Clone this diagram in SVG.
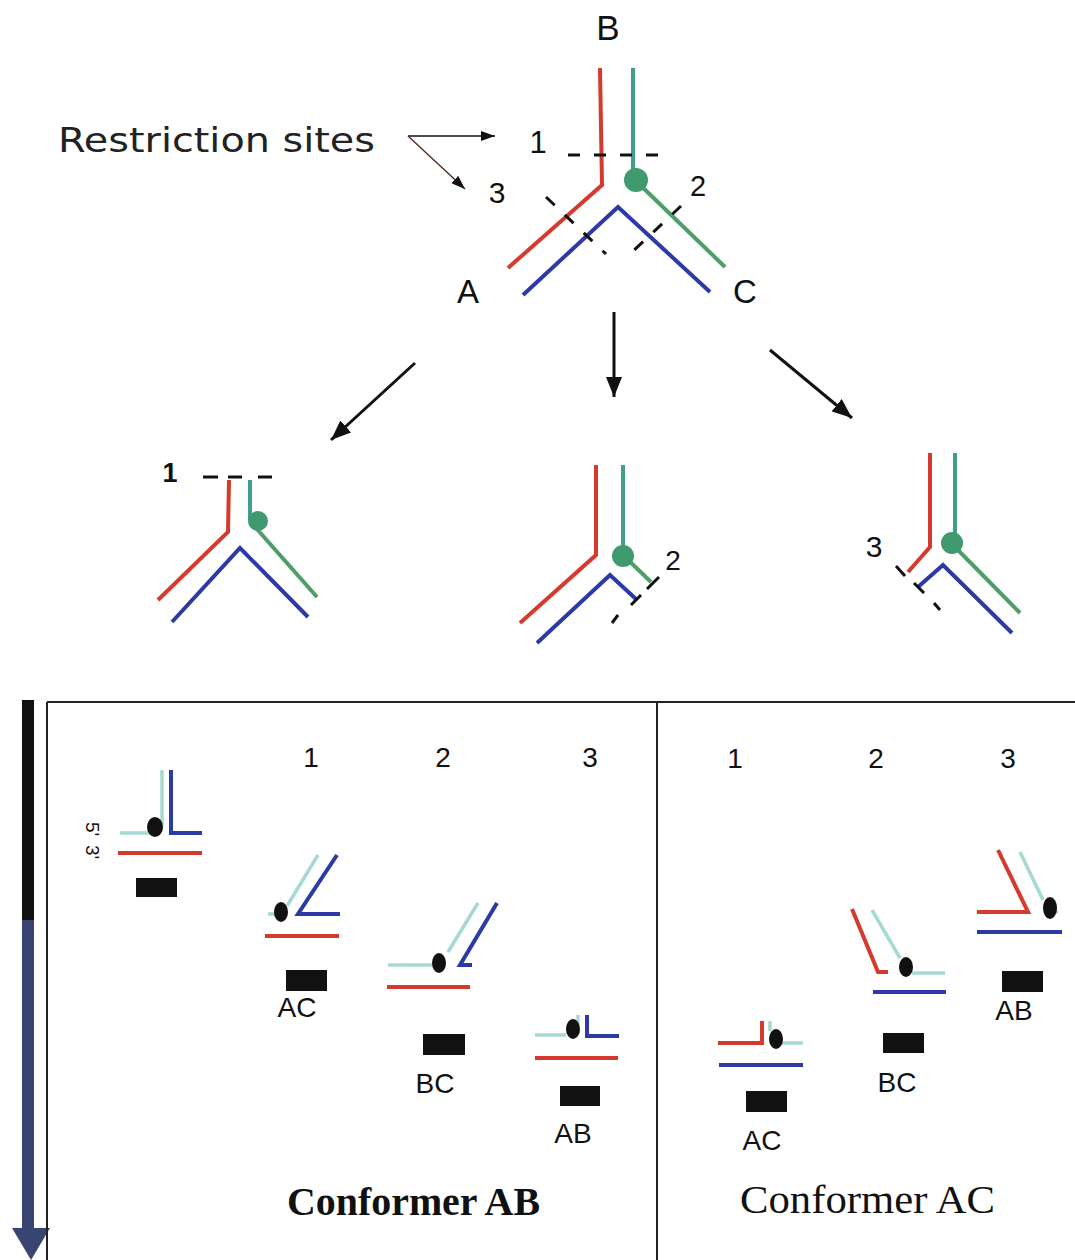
<svg xmlns="http://www.w3.org/2000/svg" width="1075" height="1260" viewBox="0 0 1075 1260">
  <defs>
    <style>
      .red { fill: none; stroke: #d63a2f; stroke-width: 4; stroke-linejoin: miter; }
      .blue { fill: none; stroke: #2c3aa6; stroke-width: 4; stroke-linejoin: miter; }
      .grn { fill: none; stroke: #3f9f8c; stroke-width: 4; }
      .grn2 { fill: none; stroke: #4e9e66; stroke-width: 4; }
      .cyan { fill: none; stroke: #a6d8d4; stroke-width: 3.5; }
      .cut { fill: none; stroke: #111; stroke-width: 3; stroke-dasharray: 12 14; }
      .tick { fill: none; stroke: #111; stroke-width: 3; }
      .knot { fill: #3f9a70; }
      .dot { fill: #111; }
      .band { fill: #111; }
      .lab { font-family: "Liberation Sans", Arial, sans-serif; fill: #111; text-anchor: middle; }
      .frame { fill: none; stroke: #222; stroke-width: 2; }
      .arrow { fill: none; stroke: #111; stroke-width: 3; }
    </style>
    <marker id="head" viewBox="0 0 20 16" refX="20" refY="8" markerWidth="20" markerHeight="16" markerUnits="userSpaceOnUse" orient="auto">
      <path d="M0,0 L20,8 L0,16 z" fill="#111"/>
    </marker>
    <marker id="headSm" viewBox="0 0 14 10" refX="14" refY="5" markerWidth="14" markerHeight="10" markerUnits="userSpaceOnUse" orient="auto">
      <path d="M0,0 L14,5 L0,10 z" fill="#111"/>
    </marker>
  </defs>
  <rect width="1075" height="1260" fill="#fff"/>

  <!-- three-way junction with its restriction sites -->
  <g id="junction">
    <polyline class="red" points="600,68 602,185 508,268"/>
    <line class="grn" x1="633" y1="68" x2="633" y2="180"/>
    <line class="grn2" x1="636" y1="181" x2="725" y2="267"/>
    <circle class="knot" cx="636" cy="180" r="12"/>
    <polyline class="blue" points="523,295 618,207 710,292"/>
    <line class="cut" x1="568" y1="155" x2="664" y2="155"/>
    <line class="cut" x1="546" y1="197" x2="606" y2="254" stroke-dasharray="13 11"/>
    <line class="cut" x1="681" y1="206" x2="630" y2="254" stroke-dasharray="12 12"/>
    <text class="lab" x="608" y="40" font-size="35">B</text>
    <text class="lab" x="468" y="303" font-size="33">A</text>
    <text class="lab" x="745" y="303" font-size="33">C</text>
    <text class="lab" x="538" y="153" font-size="31">1</text>
    <text class="lab" x="698" y="196" font-size="29">2</text>
    <text class="lab" x="497" y="203" font-size="30">3</text>
  </g>

  <g id="legend">
    <text x="58" y="152" font-family="DejaVu Sans, Verdana, sans-serif" font-size="34" fill="#222" textLength="317" lengthAdjust="spacingAndGlyphs">Restriction sites</text>
  </g>

  <!-- product cut at site 1 -->
  <g id="cut-1">
    <polyline class="red" points="229,480 228,532 158,600"/>
    <line class="grn" x1="250" y1="480" x2="250" y2="520"/>
    <line class="grn2" x1="256" y1="528" x2="317" y2="597"/>
    <circle class="knot" cx="258" cy="521" r="10"/>
    <polyline class="blue" points="172,622 240,548 308,617"/>
    <line class="tick" x1="203" y1="477" x2="218" y2="477"/>
    <line class="tick" x1="228" y1="477" x2="242" y2="477"/>
    <line class="tick" x1="258" y1="477" x2="272" y2="477"/>
    <text class="lab" x="170" y="482" font-size="27" font-weight="bold">1</text>
  </g>

  <!-- product cut at site 2 -->
  <g id="cut-2">
    <polyline class="red" points="596,465 596,555 520,623"/>
    <line class="grn" x1="623" y1="465" x2="623" y2="553"/>
    <line class="grn2" x1="624" y1="556" x2="651" y2="582"/>
    <circle class="knot" cx="623" cy="556" r="11"/>
    <polyline class="blue" points="537,643 610,575 637,600"/>
    <line class="tick" x1="659" y1="577" x2="647" y2="589"/>
    <line class="tick" x1="641" y1="595" x2="631" y2="605"/>
    <line class="tick" x1="618" y1="615" x2="612" y2="623"/>
    <text class="lab" x="673" y="570" font-size="28">2</text>
  </g>

  <!-- product cut at site 3 -->
  <g id="cut-3">
    <polyline class="red" points="930,453 930,547 908,572"/>
    <line class="grn" x1="955" y1="453" x2="955" y2="540"/>
    <line class="grn2" x1="953" y1="545" x2="1020" y2="613"/>
    <circle class="knot" cx="952" cy="543" r="11"/>
    <polyline class="blue" points="918,587 943,565 1012,633"/>
    <line class="tick" x1="896" y1="566" x2="905" y2="576"/>
    <line class="tick" x1="914" y1="583" x2="924" y2="593"/>
    <line class="tick" x1="934" y1="603" x2="940" y2="610"/>
    <text class="lab" x="874" y="557" font-size="30">3</text>
  </g>

  <!-- arrows -->
  <g id="connectors">
    <line x1="408" y1="136" x2="495" y2="136" stroke="#111" stroke-width="1.6" marker-end="url(#headSm)"/>
    <line x1="408" y1="136" x2="465" y2="189" stroke="#5a2a20" stroke-width="1.4" marker-end="url(#headSm)"/>
    <line class="arrow" x1="415" y1="363" x2="331" y2="440" marker-end="url(#head)"/>
    <line class="arrow" x1="614" y1="312" x2="614" y2="397" marker-end="url(#head)"/>
    <line class="arrow" x1="770" y1="350" x2="852" y2="418" marker-end="url(#head)"/>
  </g>

  <!-- gel direction arrow -->
  <g id="gel-arrow">
    <rect x="22" y="700" width="12" height="222" fill="#111"/>
    <rect x="22" y="920" width="12" height="310" fill="#3a4470"/>
    <path d="M12,1228 L50,1228 L31,1260 z" fill="#3a4470"/>
  </g>

  <!-- gel frames -->
  <g id="gel-frame">
    <line class="frame" x1="47" y1="702" x2="1075" y2="702"/>
    <line class="frame" x1="47" y1="702" x2="47" y2="1260" stroke="#5a3030"/>
    <line class="frame" x1="657" y1="702" x2="657" y2="1260" stroke="#5a3030"/>
  </g>

  <!-- conformer AB lanes -->
  <g id="lane-ab-uncut">
    <line class="cyan" x1="162" y1="770" x2="162" y2="826"/>
    <line class="cyan" x1="120" y1="833" x2="152" y2="833"/>
    <ellipse class="dot" cx="155" cy="827" rx="8" ry="10"/>
    <polyline class="blue" points="171,770 171,833 202,833"/>
    <line class="red" x1="118" y1="853" x2="202" y2="853"/>
    <rect class="band" x="136" y="878" width="41" height="19"/>
    <text font-family="Liberation Sans, Arial, sans-serif" font-size="19" fill="#111" transform="translate(86,822) rotate(90)">5'</text>
    <text font-family="Liberation Sans, Arial, sans-serif" font-size="19" fill="#111" transform="translate(86,845) rotate(90)">3'</text>
  </g>
  <g id="lane-ab-1">
    <text class="lab" x="311" y="767" font-size="28">1</text>
    <line class="cyan" x1="318" y1="855" x2="287" y2="906"/>
    <line class="cyan" x1="268" y1="914" x2="280" y2="914"/>
    <ellipse class="dot" cx="281" cy="912" rx="7" ry="10"/>
    <polyline class="blue" points="337,855 298,914 340,914"/>
    <line class="red" x1="265" y1="936" x2="339" y2="936"/>
    <rect class="band" x="286" y="970" width="41" height="21"/>
    <text class="lab" x="297" y="1017" font-size="28">AC</text>
  </g>
  <g id="lane-ab-2">
    <text class="lab" x="443" y="767" font-size="28">2</text>
    <line class="cyan" x1="478" y1="903" x2="448" y2="952"/>
    <line class="cyan" x1="388" y1="965" x2="432" y2="965"/>
    <ellipse class="dot" cx="439" cy="963" rx="7" ry="10"/>
    <polyline class="blue" points="497,903 460,965 472,965"/>
    <line class="red" x1="387" y1="987" x2="470" y2="987"/>
    <rect class="band" x="423" y="1034" width="42" height="21"/>
    <text class="lab" x="435" y="1093" font-size="28">BC</text>
  </g>
  <g id="lane-ab-3">
    <text class="lab" x="590" y="767" font-size="28">3</text>
    <line class="cyan" x1="535" y1="1035" x2="566" y2="1035"/>
    <line class="cyan" x1="578" y1="1015" x2="578" y2="1024"/>
    <ellipse class="dot" cx="573" cy="1029" rx="7" ry="10"/>
    <polyline class="blue" points="587,1015 587,1036 619,1036"/>
    <line class="red" x1="535" y1="1058" x2="618" y2="1058"/>
    <rect class="band" x="560" y="1086" width="40" height="20"/>
    <text class="lab" x="573" y="1143" font-size="28">AB</text>
  </g>
  <g id="title-ab">
    <text x="287" y="1215" font-family="Liberation Serif, Times New Roman, serif" font-size="40" font-weight="bold" fill="#111" textLength="253" lengthAdjust="spacingAndGlyphs">Conformer AB</text>
  </g>

  <!-- conformer AC lanes -->
  <g id="lane-ac-1">
    <text class="lab" x="735" y="768" font-size="28">1</text>
    <polyline class="red" points="718,1043 762,1043 762,1021"/>
    <line class="cyan" x1="770" y1="1021" x2="770" y2="1031"/>
    <line class="cyan" x1="781" y1="1043" x2="803" y2="1043"/>
    <ellipse class="dot" cx="776" cy="1039" rx="7" ry="10"/>
    <line class="blue" x1="719" y1="1065" x2="803" y2="1065"/>
    <rect class="band" x="746" y="1091" width="41" height="21"/>
    <text class="lab" x="762" y="1150" font-size="28">AC</text>
  </g>
  <g id="lane-ac-2">
    <text class="lab" x="876" y="768" font-size="28">2</text>
    <polyline class="red" points="852,909 878,972 888,972"/>
    <line class="cyan" x1="872" y1="910" x2="900" y2="958"/>
    <line class="cyan" x1="912" y1="973" x2="945" y2="973"/>
    <ellipse class="dot" cx="906" cy="967" rx="7" ry="10"/>
    <line class="blue" x1="873" y1="992" x2="946" y2="992"/>
    <rect class="band" x="883" y="1033" width="41" height="20"/>
    <text class="lab" x="897" y="1092" font-size="28">BC</text>
  </g>
  <g id="lane-ac-3">
    <text class="lab" x="1008" y="768" font-size="28">3</text>
    <polyline class="red" points="998,850 1028,912 977,912"/>
    <line class="cyan" x1="1020" y1="852" x2="1043" y2="900"/>
    <line class="cyan" x1="1050" y1="912" x2="1058" y2="912"/>
    <ellipse class="dot" cx="1050" cy="908" rx="7" ry="11"/>
    <line class="blue" x1="977" y1="932" x2="1062" y2="932"/>
    <rect class="band" x="1002" y="971" width="41" height="21"/>
    <text class="lab" x="1014" y="1020" font-size="28">AB</text>
  </g>
  <g id="title-ac">
    <text x="740" y="1213" font-family="Liberation Serif, Times New Roman, serif" font-size="40" fill="#111" textLength="255" lengthAdjust="spacingAndGlyphs">Conformer AC</text>
  </g>
</svg>
